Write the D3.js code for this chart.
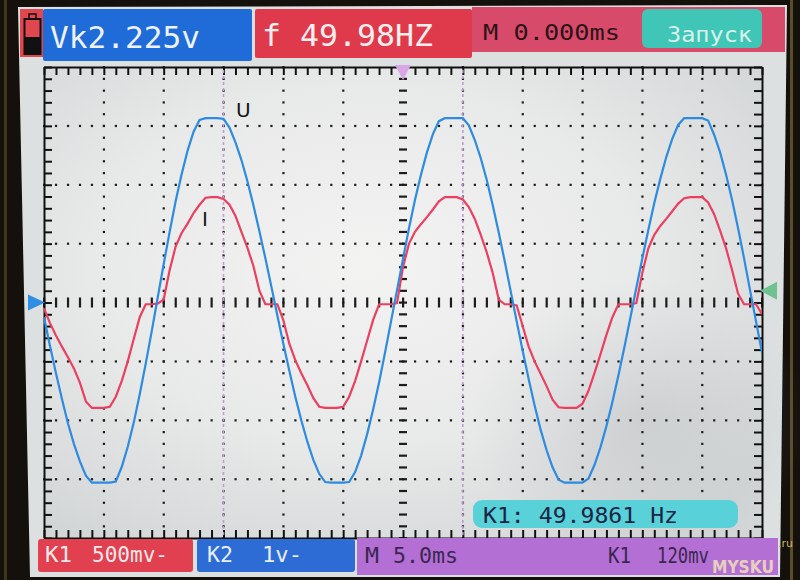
<!DOCTYPE html>
<html><head><meta charset="utf-8">
<script src="https://cdn.jsdelivr.net/npm/d3@7"></script>
<style>html,body{margin:0;padding:0;background:#120f0c;} svg{display:block}</style>
</head><body>
<svg id="c" width="800" height="580"></svg>
<script>
// ---------------- data ----------------
const samplePeriodMs = 0.5;
const timeDomainMs = [0, 60];
const msPerDiv = 5;
const ch1VoltsPerDiv = 0.5;   // K1 (red, current I)
const ch2VoltsPerDiv = 1.0;   // K2 (blue, voltage U)

// K2 trace (U), volts, one sample every 0.5 ms
const uTrace = [
 -0.25,-0.74,-1.20,-1.64,-2.05,-2.40,-2.70,-2.94,-3.06,-3.06,
 -3.06,-3.06,-3.04,-2.79,-2.45,-2.04,-1.56,-1.04,-0.49, 0.08,
  0.65, 1.20, 1.72, 2.18, 2.58, 2.90, 3.10, 3.13, 3.13, 3.13,
  3.12, 2.97, 2.72, 2.42, 2.06, 1.65, 1.21, 0.75, 0.27,-0.22,
 -0.70,-1.16,-1.60,-2.00,-2.36,-2.67,-2.91,-3.05,-3.06,-3.06,
 -3.06,-3.05,-2.88,-2.60,-2.24,-1.82,-1.36,-0.85,-0.32, 0.21,
  0.74, 1.26, 1.74, 2.17, 2.55, 2.86, 3.08, 3.13, 3.13, 3.13,
  3.13, 3.01, 2.76, 2.45, 2.08, 1.65, 1.19, 0.70, 0.19,-0.32,
 -0.82,-1.30,-1.75,-2.16,-2.51,-2.80,-3.01,-3.06,-3.06,-3.06,
 -3.06,-2.99,-2.76,-2.46,-2.10,-1.69,-1.24,-0.76,-0.26, 0.25,
  0.75, 1.23, 1.69, 2.10, 2.47, 2.78, 3.02, 3.13, 3.13, 3.13,
  3.13, 3.09, 2.85, 2.55, 2.17, 1.74, 1.26, 0.75, 0.21,-0.32,
 -0.85
];

// K1 trace (I), volts, one sample every 0.5 ms
const iTrace = [
 -0.050,-0.175,-0.280,-0.375,-0.465,-0.560,-0.680,-0.840,-0.895,-0.895,
 -0.895,-0.885,-0.800,-0.665,-0.500,-0.310,-0.125,-0.015,-0.015,-0.010,
  0.025, 0.275, 0.475, 0.590, 0.670, 0.760, 0.830, 0.890, 0.895, 0.895,
  0.880, 0.830, 0.735, 0.600, 0.465, 0.310, 0.100,-0.015,-0.015,-0.015,
 -0.150,-0.350,-0.490,-0.600,-0.700,-0.810,-0.885,-0.895,-0.895,-0.895,
 -0.885,-0.800,-0.665,-0.500,-0.325,-0.150,-0.015,-0.015,-0.015,-0.005,
  0.300, 0.500, 0.600, 0.665, 0.725, 0.790, 0.860, 0.895, 0.895, 0.895,
  0.875, 0.810, 0.710, 0.575, 0.425, 0.250, 0.025,-0.015,-0.015,-0.025,
 -0.200,-0.375,-0.500,-0.605,-0.710,-0.825,-0.890,-0.895,-0.895,-0.895,
 -0.860,-0.750,-0.600,-0.440,-0.275,-0.125,-0.015,-0.015,-0.015,-0.005,
  0.250, 0.460, 0.575, 0.650, 0.710, 0.775, 0.840, 0.885, 0.895, 0.895,
  0.895, 0.850, 0.750, 0.610, 0.460, 0.275, 0.075,-0.015,-0.015,-0.015,
 -0.100
];

const cursorTimesMs = [15, 35];
const triggerTimeMs = 30;
const triggerLevelDiv = 0.2;

const headerTexts = ["Vk2.225v", "f 49.98HZ", "M 0.000ms", "Запуск"];
const footerTexts = ["K1", "500mv-", "K2", "1v-", "M", "5.0ms", "K1", "120mv"];
const readoutText = "K1: 49.9861 Hz";
const traceLabels = ["U", "I"];
const watermark = ["MYSKU", ".ru"];

// ---------------- drawing ----------------
const W = 800, H = 580;
const svg = d3.select("#c");
const defs = svg.append("defs");
const MONO = "'DejaVu Sans Mono', 'Liberation Mono', monospace";
const SANS = "'DejaVu Sans', 'Liberation Sans', sans-serif";

const rg = defs.append("radialGradient").attr("id", "scr")
  .attr("cx", "45%").attr("cy", "42%").attr("r", "70%");
rg.append("stop").attr("offset", "0%").attr("stop-color", "#f3f3f2");
rg.append("stop").attr("offset", "55%").attr("stop-color", "#e8e9e9");
rg.append("stop").attr("offset", "100%").attr("stop-color", "#d3d6d7");

const sh = defs.append("radialGradient").attr("id", "shade")
  .attr("cx", "50%").attr("cy", "50%").attr("r", "50%");
sh.append("stop").attr("offset", "0%").attr("stop-color", "#9ea3a8").attr("stop-opacity", 0.28);
sh.append("stop").attr("offset", "100%").attr("stop-color", "#9ea3a8").attr("stop-opacity", 0);

// bezel
svg.append("rect").attr("width", W).attr("height", H).attr("fill", "#14100c");
svg.append("rect").attr("x", 4).attr("y", 0).attr("width", 3).attr("height", H).attr("fill", "#5e4d28").attr("opacity", 0.6);
svg.append("rect").attr("x", 790).attr("y", 0).attr("width", 3).attr("height", H).attr("fill", "#7a6638").attr("opacity", 0.7);
// LCD face
svg.append("polygon").attr("points", "18,7 787,5 780,577 30,577").attr("fill", "#dde0e1");

// plot geometry
const plot = { l: 44, r: 762, t: 67, b: 538 };
const x = d3.scaleLinear().domain(timeDomainMs).range([plot.l, plot.r]);
const yDiv = d3.scaleLinear().domain([-4, 4]).range([plot.b, plot.t]);
const yU = d3.scaleLinear().domain([-4 * ch2VoltsPerDiv, 4 * ch2VoltsPerDiv]).range([plot.b, plot.t]);
const yI = d3.scaleLinear().domain([-4 * ch1VoltsPerDiv, 4 * ch1VoltsPerDiv]).range([plot.b, plot.t]);

svg.append("rect").attr("x", plot.l).attr("y", plot.t)
  .attr("width", plot.r - plot.l).attr("height", plot.b - plot.t).attr("fill", "url(#scr)");
svg.append("ellipse").attr("cx", 640).attr("cy", 420).attr("rx", 170).attr("ry", 140).attr("fill", "url(#shade)");

// grid
const minorX = d3.range(timeDomainMs[0], timeDomainMs[1] + 0.001, msPerDiv / 5);
const minorY = d3.range(-4, 4.001, 0.2);
const majorX = d3.range(msPerDiv, timeDomainMs[1], msPerDiv).filter(t => t !== triggerTimeMs);
const majorY = [-3, -2, -1, 1, 2, 3];
const grid = svg.append("g").attr("fill", "#1c1c1c");
majorY.forEach(dv => {
  grid.selectAll(null).data(minorX).enter().append("rect")
    .attr("x", t => x(t) - 1).attr("y", yDiv(dv) - 1).attr("width", 2.2).attr("height", 2.2);
});
majorX.forEach(t => {
  grid.selectAll(null).data(minorY).enter().append("rect")
    .attr("x", x(t) - 1).attr("y", dv => yDiv(dv) - 1).attr("width", 2.2).attr("height", 2.2);
});
// centre axes with small marks
grid.selectAll(null).data(minorX).enter().append("rect")
  .attr("x", t => x(t) - 1).attr("y", yDiv(0) - 5).attr("width", 2.2).attr("height", 10);
grid.selectAll(null).data(minorY).enter().append("rect")
  .attr("x", x(triggerTimeMs) - 4).attr("y", dv => yDiv(dv) - 1).attr("width", 8).attr("height", 2.2);

// border with inward ticks (d3 axes)
function styleAxis(g) {
  g.selectAll("path.domain").attr("stroke", "#111").attr("stroke-width", 2);
  g.selectAll(".tick line").attr("stroke", "#111").attr("stroke-width", 2);
  g.selectAll("text").remove();
}
svg.append("g").attr("transform", `translate(0,${plot.t})`)
  .call(d3.axisBottom(x).tickValues(minorX).tickSize(8).tickSizeOuter(0).tickFormat("")).call(styleAxis);
svg.append("g").attr("transform", `translate(0,${plot.b})`)
  .call(d3.axisTop(x).tickValues(minorX).tickSize(8).tickSizeOuter(0).tickFormat("")).call(styleAxis);
svg.append("g").attr("transform", `translate(${plot.l},0)`)
  .call(d3.axisRight(yDiv).tickValues(minorY).tickSize(8).tickSizeOuter(0).tickFormat("")).call(styleAxis);
svg.append("g").attr("transform", `translate(${plot.r},0)`)
  .call(d3.axisLeft(yDiv).tickValues(minorY).tickSize(8).tickSizeOuter(0).tickFormat("")).call(styleAxis);

// cursors
svg.append("g").selectAll("line").data(cursorTimesMs).enter().append("line")
  .attr("x1", t => x(t)).attr("x2", t => x(t)).attr("y1", plot.t + 3).attr("y2", plot.b - 2)
  .attr("stroke", "#c49bd8").attr("stroke-width", 1.6).attr("stroke-dasharray", "3,3");

// readout box
svg.append("rect").attr("x", 473).attr("y", 500).attr("width", 265).attr("height", 28).attr("rx", 9)
  .attr("fill", "#58d1d9");
svg.append("text").attr("x", 483).attr("y", 523).attr("font-family", MONO).attr("font-size", 21)
  .attr("textLength", 195).attr("lengthAdjust", "spacingAndGlyphs").attr("fill", "#1b2444").text(readoutText);

// traces
defs.append("clipPath").attr("id", "pc").append("rect")
  .attr("x", plot.l).attr("y", plot.t).attr("width", plot.r - plot.l).attr("height", plot.b - plot.t);
const lineI = d3.line().x((d, i) => x(i * samplePeriodMs)).y(d => yI(d)).curve(d3.curveLinear);
const lineU = d3.line().x((d, i) => x(i * samplePeriodMs)).y(d => yU(d)).curve(d3.curveLinear);
const tr = svg.append("g").attr("clip-path", "url(#pc)");
tr.append("path").attr("d", lineI(iTrace)).attr("fill", "none").attr("stroke", "#ec3f60").attr("stroke-width", 2.2);
tr.append("path").attr("d", lineU(uTrace)).attr("fill", "none").attr("stroke", "#2d8be0").attr("stroke-width", 2.2);

// trace labels
svg.append("text").attr("x", 236).attr("y", 117).attr("font-family", SANS).attr("font-size", 20)
  .attr("fill", "#151515").text(traceLabels[0]);
svg.append("text").attr("x", 202).attr("y", 226).attr("font-family", SANS).attr("font-size", 20)
  .attr("fill", "#151515").text(traceLabels[1]);

// markers
const tx = x(triggerTimeMs);
svg.append("path").attr("d", `M${tx - 8},${plot.t - 2} L${tx + 8},${plot.t - 2} L${tx},${plot.t + 13} Z`).attr("fill", "#d9a7e8");
const y0 = yU(0);
svg.append("path").attr("d", `M28,${y0 - 8} L28,${y0 + 8} L45,${y0} Z`).attr("fill", "#2d8ee3");
const yt = yDiv(triggerLevelDiv);
svg.append("path").attr("d", `M777,${yt - 9} L777,${yt + 9} L760,${yt} Z`).attr("fill", "#6fc28f");

// header
svg.append("rect").attr("x", 20).attr("y", 9).attr("width", 23).attr("height", 48).attr("fill", "#e0474f");
svg.append("rect").attr("x", 29).attr("y", 14).attr("width", 7).attr("height", 5).attr("fill", "#e0474f").attr("stroke", "#111").attr("stroke-width", 1.5);
svg.append("rect").attr("x", 24.5).attr("y", 19).attr("width", 16).attr("height", 35).attr("fill", "#e0474f").attr("stroke", "#111").attr("stroke-width", 2);
svg.append("rect").attr("x", 24.5).attr("y", 37).attr("width", 16).attr("height", 17).attr("fill", "#111");

svg.append("rect").attr("x", 43).attr("y", 9).attr("width", 209).attr("height", 52).attr("rx", 2).attr("fill", "#1f6bd8");
svg.append("rect").attr("x", 255).attr("y", 9).attr("width", 217).attr("height", 49).attr("rx", 2).attr("fill", "#de3a4b");
svg.append("rect").attr("x", 472).attr("y", 7).attr("width", 313).attr("height", 45).attr("fill", "#d84a6a");
svg.append("rect").attr("x", 642).attr("y", 9).attr("width", 120).attr("height", 39).attr("rx", 6).attr("fill", "#3fc6b7");

function txt(s, x0, y0, size, len, fill) {
  svg.append("text").attr("x", x0).attr("y", y0).attr("font-family", MONO).attr("font-size", size)
    .attr("textLength", len).attr("lengthAdjust", "spacingAndGlyphs").attr("fill", fill).text(s);
}
txt(headerTexts[0], 50, 48, 30, 150, "#eef3ff");
txt(headerTexts[1], 262, 46, 30, 171, "#fbeeee");
txt(headerTexts[2], 483, 40, 22, 137, "#2a1418");
txt(headerTexts[3], 667, 42, 21, 85, "#d9f2ec");

// footer
svg.append("rect").attr("x", 38).attr("y", 539).attr("width", 155).attr("height", 33).attr("rx", 3).attr("fill", "#e0404f");
svg.append("rect").attr("x", 197).attr("y", 539).attr("width", 158).attr("height", 33).attr("rx", 3).attr("fill", "#2d6cd5");
svg.append("rect").attr("x", 357).attr("y", 538).attr("width", 421).attr("height", 37).attr("fill", "#b36fd3");
txt(footerTexts[0], 45, 562, 21, 27, "#fde8ea");
txt(footerTexts[1], 92, 562, 21, 76, "#fde8ea");
txt(footerTexts[2], 207, 562, 21, 26, "#e6efff");
txt(footerTexts[3], 262, 562, 21, 40, "#e6efff");
txt(footerTexts[4], 365, 563, 21, 14, "#3a2650");
txt(footerTexts[5], 393, 563, 21, 65, "#3a2650");
txt(footerTexts[6], 608, 563, 21, 23, "#3a2650");
txt(footerTexts[7], 657, 563, 21, 52, "#3a2650");

// watermark (kept clear of the footer reading)
svg.append("text").attr("x", 712).attr("y", 573).attr("font-family", SANS).attr("font-weight", "bold")
  .attr("font-size", 18).attr("textLength", 62).attr("lengthAdjust", "spacingAndGlyphs")
  .attr("fill", "#f3e9b8").attr("opacity", 0.8).text(watermark[0]);
svg.append("text").attr("x", 778).attr("y", 547).attr("font-family", SANS).attr("font-size", 11)
  .attr("fill", "#c9b45a").text(watermark[1]);
</script>
</body></html>
